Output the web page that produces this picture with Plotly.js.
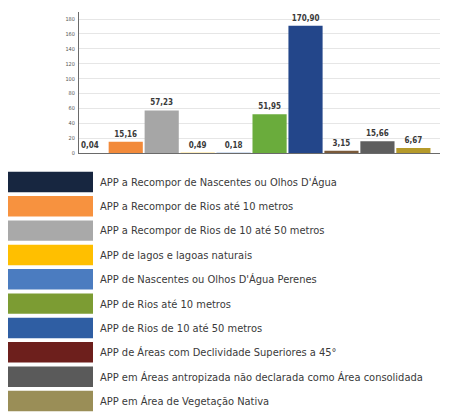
<!DOCTYPE html>
<html>
<head>
<meta charset="utf-8">
<script src="https://cdn.plot.ly/plotly-3.0.1.min.js"></script>
<style>html,body{margin:0;padding:0;background:#fff;}#chart{width:461px;height:412px;}</style>
</head>
<body>
<div id="chart"></div>
<script>
var categories = [
  "APP a Recompor de Nascentes ou Olhos D'Água",
  "APP a Recompor de Rios até 10 metros",
  "APP a Recompor de Rios de 10 até 50 metros",
  "APP de lagos e lagoas naturais",
  "APP de Nascentes ou Olhos D'Água Perenes",
  "APP de Rios até 10 metros",
  "APP de Rios de 10 até 50 metros",
  "APP de Áreas com Declividade Superiores a 45°",
  "APP em Áreas antropizada não declarada como Área consolidada",
  "APP em Área de Vegetação Nativa"
];
var values = [0.04, 15.16, 57.23, 0.49, 0.18, 51.95, 170.90, 3.15, 15.66, 6.67];
var barColors = ["#172640", "#f28a3a", "#a6a6a6", "#ffbf00", "#4d7fc1", "#6aac3c", "#23468a", "#7a5a3a", "#5e5e5e", "#b59a2a"];
var legendColors = ["#172640", "#f7923f", "#a9a9a9", "#ffbf00", "#4b7cc0", "#7c9c33", "#2f5ea3", "#6d1f1c", "#5a5a5a", "#9a8e57"];
var yTicks = [0, 20, 40, 60, 80, 100, 120, 140, 160, 180];
var swatchLength = categories.map(function(){ return 1; });

var font = "DejaVu Sans Condensed, Liberation Sans Narrow, sans-serif";

var main = {
  type: "bar",
  x: categories,
  y: values,
  marker: {color: barColors},
  width: 0.95,
  text: values.map(function(v){ return v.toFixed(2).replace('.', ','); }),
  textposition: "outside",
  cliponaxis: false,
  textfont: {family: font, size: 8, color: "#3a3a3a", weight: "bold"},
  hoverinfo: "x+y",
  showlegend: false,
  xaxis: "x", yaxis: "y"
};

var legendBars = {
  type: "bar",
  orientation: "h",
  y: categories,
  x: swatchLength,
  marker: {color: legendColors},
  width: 0.84,
  showlegend: false,
  hoverinfo: "y",
  xaxis: "x2", yaxis: "y2"
};

var layout = {
  width: 461, height: 412,
  margin: {l: 0, r: 0, t: 0, b: 0},
  paper_bgcolor: "#ffffff",
  plot_bgcolor: "#ffffff",
  separators: ",.",
  font: {family: font, color: "#333"},
  xaxis: {
    domain: [79/461, 440/461],
    range: [-0.3, 9.74],
    showticklabels: false,
    ticks: "",
    showgrid: false,
    showline: true, linecolor: "#6a6a6a", linewidth: 1,
    zeroline: false,
    anchor: "y"
  },
  yaxis: {
    domain: [(412-153)/412, (412-11.6)/412],
    range: [0, 190],
    tickvals: yTicks,
    ticktext: yTicks.map(String),
    tickfont: {family: font, size: 5.5, color: "#555"},
    ticks: "",
    ticklabelstandoff: 2,
    showgrid: true, gridcolor: "#e6e6e6", gridwidth: 1,
    showline: true, linecolor: "#6a6a6a", linewidth: 1,
    zeroline: false,
    anchor: "x"
  },
  xaxis2: {
    domain: [8/461, 93/461],
    range: [0, 1],
    visible: false,
    anchor: "y2"
  },
  yaxis2: {
    domain: [0, (412-169.8)/412],
    type: "category",
    range: [9.452, -0.5],
    side: "right",
    anchor: "x2",
    showline: false, showgrid: false, zeroline: false,
    ticks: "",
    ticklabelstandoff: 6,
    tickfont: {family: font, size: 11, color: "#3a3a3a"}
  }
};

Plotly.newPlot("chart", [main, legendBars], layout, {displayModeBar: false, staticPlot: true});
</script>
</body>
</html>
